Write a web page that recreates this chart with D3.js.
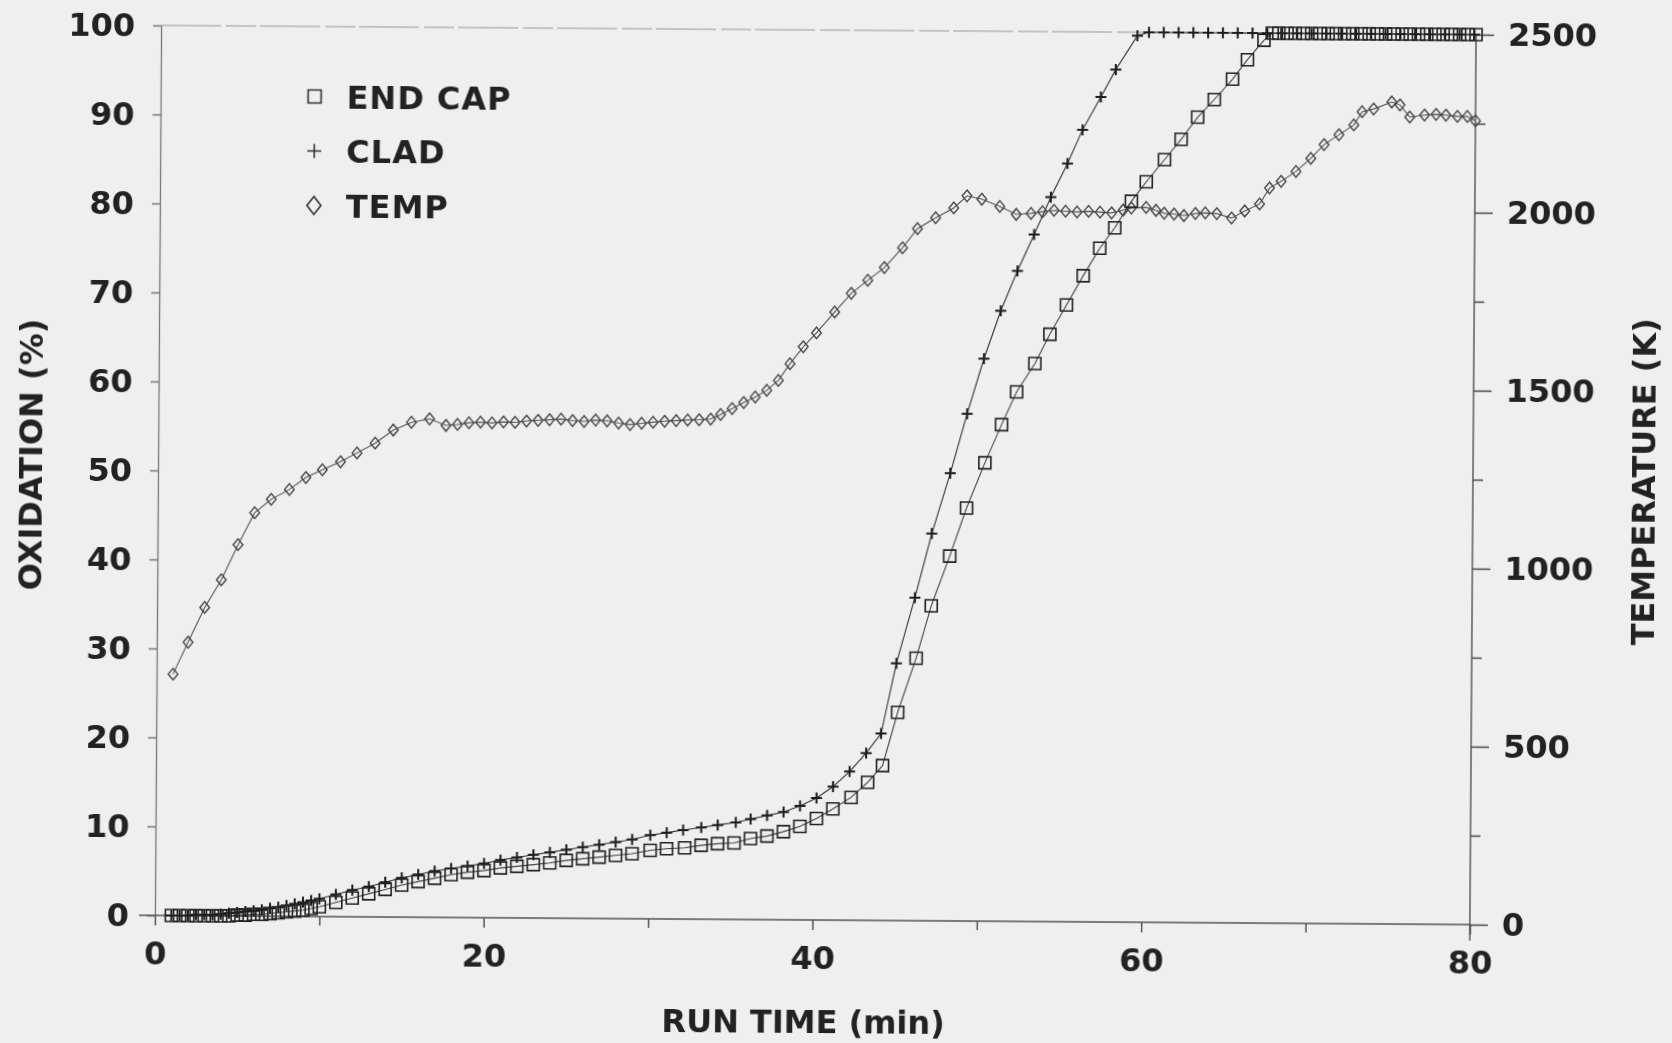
<!DOCTYPE html>
<html>
<head>
<meta charset="utf-8">
<script src="https://cdn.jsdelivr.net/npm/d3@7"></script>
<style>
  body { margin: 0; background: #efefef; }
  svg { display: block; }
  text { font-family: "DejaVu Sans", sans-serif; font-weight: bold; fill: #222; }
</style>
</head>
<body>
<svg width="1672" height="1043"></svg>
<script>
// END CAP oxidation (%)
const capTime = [1, 1.5, 2, 2.5, 3, 3.5, 4, 4.5, 5, 5.5, 6, 6.5, 7, 7.5, 8, 8.5, 9, 9.5, 10,
    11, 12, 13, 14, 15, 16, 17, 18, 19, 20, 21, 22, 23, 24, 25, 26, 27, 28, 29,
    30.1, 31.1, 32.2, 33.2, 34.2, 35.2, 36.2, 37.2, 38.2, 39.2, 40.2, 41.2, 42.3, 43.3, 44.2,
    45.1, 46.2, 47.1, 48.2, 49.2, 50.3, 51.3, 52.2, 53.3, 54.2, 55.2, 56.2, 57.2, 58.1, 59.1, 60, 61.1, 62.1, 63.1, 64.1, 65.2, 66.1, 67.1, 67.6,
    68, 68.5, 69, 69.5, 70, 70.5, 71, 71.5, 72, 72.5, 73, 73.5, 74, 74.5, 75, 75.5, 76, 76.5, 77, 77.5, 78, 78.5, 79, 79.5, 80];
const capOx = [0, 0, 0, 0, 0, 0, 0, 0, 0.1, 0.1, 0.2, 0.2, 0.3, 0.4, 0.5, 0.6, 0.7, 0.9, 1.1,
    1.6, 2.1, 2.6, 3.1, 3.6, 4.0, 4.4, 4.8, 5.1, 5.3, 5.6, 5.8, 6.0, 6.2, 6.5, 6.7, 6.9, 7.1, 7.3,
    7.7, 7.9, 8.0, 8.3, 8.5, 8.6, 9.1, 9.4, 9.9, 10.5, 11.4, 12.5, 13.8, 15.5, 17.4,
    23.4, 29.5, 35.4, 41.0, 46.4, 51.5, 55.8, 59.5, 62.7, 66.0, 69.3, 72.6, 75.7, 78.0, 81.0, 83.2, 85.7, 88.0, 90.5, 92.5, 94.8, 97.0, 99.2, 100,
    100, 100, 100, 100, 100, 100, 100, 100, 100, 100, 100, 100, 100, 100, 100, 100, 100, 100, 100, 100, 100, 100, 100, 100, 100];

// CLAD oxidation (%)
const cladTime = [1, 1.5, 2, 2.5, 3, 3.5, 4, 4.5, 5, 5.5, 6, 6.5, 7, 7.5, 8, 8.5, 9, 9.5, 10,
    11, 12, 13, 14, 15, 16, 17, 18, 19, 20, 21, 22, 23, 24, 25, 26, 27, 28, 29,
    30.1, 31.1, 32.1, 33.2, 34.2, 35.3, 36.2, 37.2, 38.2, 39.2, 40.2, 41.2, 42.2, 43.2, 44.1,
    45.0, 46.1, 47.1, 48.2, 49.2, 50.2, 51.2, 52.2, 53.2, 54.2, 55.2, 56.1, 57.2, 58.1, 59.4,
    60.1, 61.0, 61.9, 62.8, 63.7, 64.6, 65.5, 66.4, 67.3, 68.2, 69.1, 70.0, 70.9, 71.8, 72.7, 73.6, 74.5, 75.4, 76.3, 77.2, 78.1, 79.0, 79.9];
const cladOx = [0, 0, 0, 0.1, 0.1, 0.1, 0.2, 0.3, 0.4, 0.5, 0.6, 0.7, 0.9, 1.0, 1.2, 1.4, 1.6, 1.8, 2.0,
    2.5, 3.0, 3.4, 3.9, 4.4, 4.8, 5.2, 5.5, 5.8, 6.1, 6.5, 6.8, 7.1, 7.4, 7.7, 8.0, 8.3, 8.6, 8.9,
    9.4, 9.7, 10.0, 10.3, 10.6, 10.9, 11.3, 11.7, 12.1, 12.8, 13.7, 15.0, 16.7, 18.8, 21.0,
    28.9, 36.3, 43.5, 50.3, 57.0, 63.2, 68.6, 73.1, 77.2, 81.4, 85.2, 89.0, 92.7, 95.8, 99.6,
    100, 100, 100, 100, 100, 100, 100, 100, 100, 100, 100, 100, 100, 100, 100, 100, 100, 100, 100, 100, 100, 100, 100];

// TEMP (K), right axis
const tempTime = [1.0, 1.9, 2.9, 3.9, 4.9, 5.9, 6.9, 8.0, 9.0, 10.0,
    11.1, 12.1, 13.2, 14.3, 15.4, 16.5, 17.5, 18.2, 18.9, 19.6,
    20.3, 21.0, 21.7, 22.4, 23.1, 23.8, 24.5, 25.2, 25.9, 26.6,
    27.3, 28.0, 28.7, 29.4, 30.1, 30.8, 31.5, 32.2, 32.9, 33.6,
    34.2, 34.9, 35.6, 36.3, 37.0, 37.7, 38.4, 39.2, 40.0, 41.1,
    42.1, 43.1, 44.1, 45.2, 46.1, 47.2, 48.3, 49.1, 50.0, 51.1,
    52.1, 53.0, 53.7, 54.4, 55.1, 55.8, 56.5, 57.2, 57.9, 58.6,
    59.1, 60.0, 60.6, 61.1, 61.7, 62.3, 63.0, 63.6, 64.3, 65.2,
    66.0, 66.9, 67.5, 68.2, 69.1, 70.0, 70.8, 71.7, 72.6, 73.1,
    73.8, 74.9, 75.4, 76.0, 76.9, 77.6, 78.2, 78.9, 79.5, 80.0];
const tempK = [678, 768, 866, 944, 1043, 1133, 1171, 1199, 1233, 1255,
    1278, 1303, 1331, 1368, 1390, 1400, 1382, 1385, 1390, 1392,
    1390, 1393, 1392, 1396, 1398, 1400, 1402, 1398, 1396, 1400,
    1398, 1392, 1388, 1392, 1395, 1398, 1400, 1402, 1403, 1405,
    1418, 1435, 1452, 1468, 1487, 1515, 1562, 1610, 1649, 1708,
    1761, 1798, 1834, 1890, 1944, 1975, 2003, 2037, 2028, 2008,
    1986, 1989, 1994, 1998, 1996, 1994, 1996, 1994, 1992, 2000,
    2006, 2008, 2000, 1992, 1990, 1986, 1992, 1994, 1992, 1980,
    2000, 2020, 2065, 2084, 2112, 2149, 2188, 2216, 2244, 2281,
    2289, 2309, 2301, 2267, 2273, 2275, 2273, 2270, 2270, 2258];

const xLabelTicks = [0, 20, 40, 60, 80];
const xMinorTicks = [10, 30, 50, 70];
const oxTicks = [0, 10, 20, 30, 40, 50, 60, 70, 80, 90, 100];
const kLabelTicks = [0, 500, 1000, 1500, 2000, 2500];
const kMinorTicks = [250, 750, 1250, 1750, 2250];
const legendNames = ["END CAP", "CLAD", "TEMP"];

const width = 1672;
const height = 1043;
const plotLeft = 158, plotRight = 1473, plotTop = 30, plotBottom = 920;

const svg = d3.select('svg');
svg.append('rect').attr('width', width).attr('height', height).attr('fill', '#efefef');

// slight blur to look like the scanned page
const defs = svg.append('defs');
defs.append('filter').attr('id', 'scan')
    .append('feGaussianBlur').attr('stdDeviation', 0.55);

// the scan is turned a little clockwise
const g = svg.append('g')
    .attr('transform', 'rotate(0.4, 815, 475)')
    .attr('filter', 'url(#scan)');

const x = d3.scaleLinear().domain([0, 80]).range([plotLeft, plotRight]);
const yOx = d3.scaleLinear().domain([0, 100]).range([plotBottom, plotTop]);
const yK = d3.scaleLinear().domain([0, 2500]).range([plotBottom, plotTop]);

// top frame line
g.append('line')
    .attr('x1', plotLeft).attr('x2', plotRight)
    .attr('y1', yOx(100)).attr('y2', yOx(100))
    .attr('stroke', '#9a9a9a').attr('stroke-width', 1.2)
    .attr('stroke-dasharray', '60,5,30,4');

// axes
function styleAxis(sel, col) {
    sel.selectAll('path').attr('stroke', col).attr('stroke-width', 1.3);
    sel.selectAll('line').attr('stroke', col).attr('stroke-width', 1.5);
    sel.selectAll('text').attr('font-size', 32).attr('fill', '#222')
        .attr('font-family', '"DejaVu Sans", sans-serif').attr('font-weight', 'bold');
}

const leftAxis = g.append('g')
    .attr('transform', `translate(${plotLeft},0)`)
    .call(d3.axisLeft(yOx).tickValues(oxTicks).tickSize(8).tickSizeOuter(0).tickPadding(18));
styleAxis(leftAxis, '#777');

const bottomAxis = g.append('g')
    .attr('transform', `translate(0,${plotBottom})`)
    .call(d3.axisBottom(x).tickValues(xLabelTicks).tickSize(10).tickSizeOuter(0).tickPadding(16).tickFormat(d3.format('d')));
styleAxis(bottomAxis, '#555');
bottomAxis.select('path').attr('d', `M${plotLeft - 16},0H${plotRight}`);

const bottomMinor = g.append('g')
    .attr('transform', `translate(0,${plotBottom})`)
    .call(d3.axisBottom(x).tickValues(xMinorTicks).tickSize(9).tickFormat(''));
bottomMinor.select('path').remove();
styleAxis(bottomMinor, '#555');

const rightAxis = g.append('g')
    .attr('transform', `translate(${plotRight},0)`)
    .call(d3.axisRight(yK).tickValues(kLabelTicks).tickSize(18).tickSizeOuter(0).tickPadding(14).tickFormat(d3.format('d')));
styleAxis(rightAxis, '#444');
rightAxis.select('path').attr('d', `M0,${yK(2500)}V${yK(0) + 16}`);

const rightMinor = g.append('g')
    .attr('transform', `translate(${plotRight},0)`)
    .call(d3.axisRight(yK).tickValues(kMinorTicks).tickSize(10).tickFormat(''));
rightMinor.select('path').remove();
styleAxis(rightMinor, '#444');

// axis titles
g.append('text')
    .attr('x', 807).attr('y', 1033)
    .attr('text-anchor', 'middle').attr('font-size', 32)
    .text('RUN TIME (min)');

g.append('text')
    .attr('transform', 'translate(42,460) rotate(-90)')
    .attr('text-anchor', 'middle').attr('font-size', 32)
    .text('OXIDATION (%)');

g.append('text')
    .attr('transform', 'translate(1655,476) rotate(-90)')
    .attr('text-anchor', 'middle').attr('font-size', 32)
    .text('TEMPERATURE (K)');

// marker shapes
const square = (s) => `M${-s},${-s}H${s}V${s}H${-s}Z`;
const plus = (s) => `M${-s},0H${s}M0,${-s}V${s}`;
const diamond = (w, h) => `M0,${-h}L${w},0L0,${h}L${-w},0Z`;

const capData = capTime.map((t, i) => ({ t: t, v: capOx[i] }));
const cladData = cladTime.map((t, i) => ({ t: t, v: cladOx[i] }));
const tempData = tempTime.map((t, i) => ({ t: t, v: tempK[i] }));

const oxLine = d3.line().x(d => x(d.t)).y(d => yOx(d.v));
const kLine = d3.line().x(d => x(d.t)).y(d => yK(d.v));

g.append('path').datum(tempData).attr('d', kLine)
    .attr('fill', 'none').attr('stroke', '#555').attr('stroke-width', 1.1);
g.append('path').datum(cladData).attr('d', oxLine)
    .attr('fill', 'none').attr('stroke', '#333').attr('stroke-width', 1.1);
g.append('path').datum(capData).attr('d', oxLine)
    .attr('fill', 'none').attr('stroke', '#444').attr('stroke-width', 1.1);

g.append('g').selectAll('path')
    .data(tempData)
    .enter()
    .append('path')
    .attr('transform', d => `translate(${x(d.t)},${yK(d.v)})`)
    .attr('d', diamond(4.8, 5.8))
    .attr('fill', 'none').attr('stroke', '#444').attr('stroke-width', 1.4);

g.append('g').selectAll('path')
    .data(cladData)
    .enter()
    .append('path')
    .attr('transform', d => `translate(${x(d.t)},${yOx(d.v)})`)
    .attr('d', plus(5.5))
    .attr('fill', 'none').attr('stroke', '#1a1a1a').attr('stroke-width', 2);

g.append('g').selectAll('path')
    .data(capData)
    .enter()
    .append('path')
    .attr('transform', d => `translate(${x(d.t)},${yOx(d.v)})`)
    .attr('d', square(6))
    .attr('fill', 'none').attr('stroke', '#222').attr('stroke-width', 1.6);

// legend
const legendShapes = [square(6.5), plus(7), diamond(7, 9)];
const legend = g.append('g').attr('transform', 'translate(312,100)');
legendNames.forEach((name, i) => {
    legend.append('path')
        .attr('transform', `translate(0,${i * 54.5})`)
        .attr('d', legendShapes[i])
        .attr('fill', 'none').attr('stroke', '#333').attr('stroke-width', 1.6);
    legend.append('text')
        .attr('x', 32).attr('y', i * 54.5).attr('dy', '0.36em')
        .attr('font-size', 32).attr('letter-spacing', 1)
        .text(name);
});
</script>
</body>
</html>
